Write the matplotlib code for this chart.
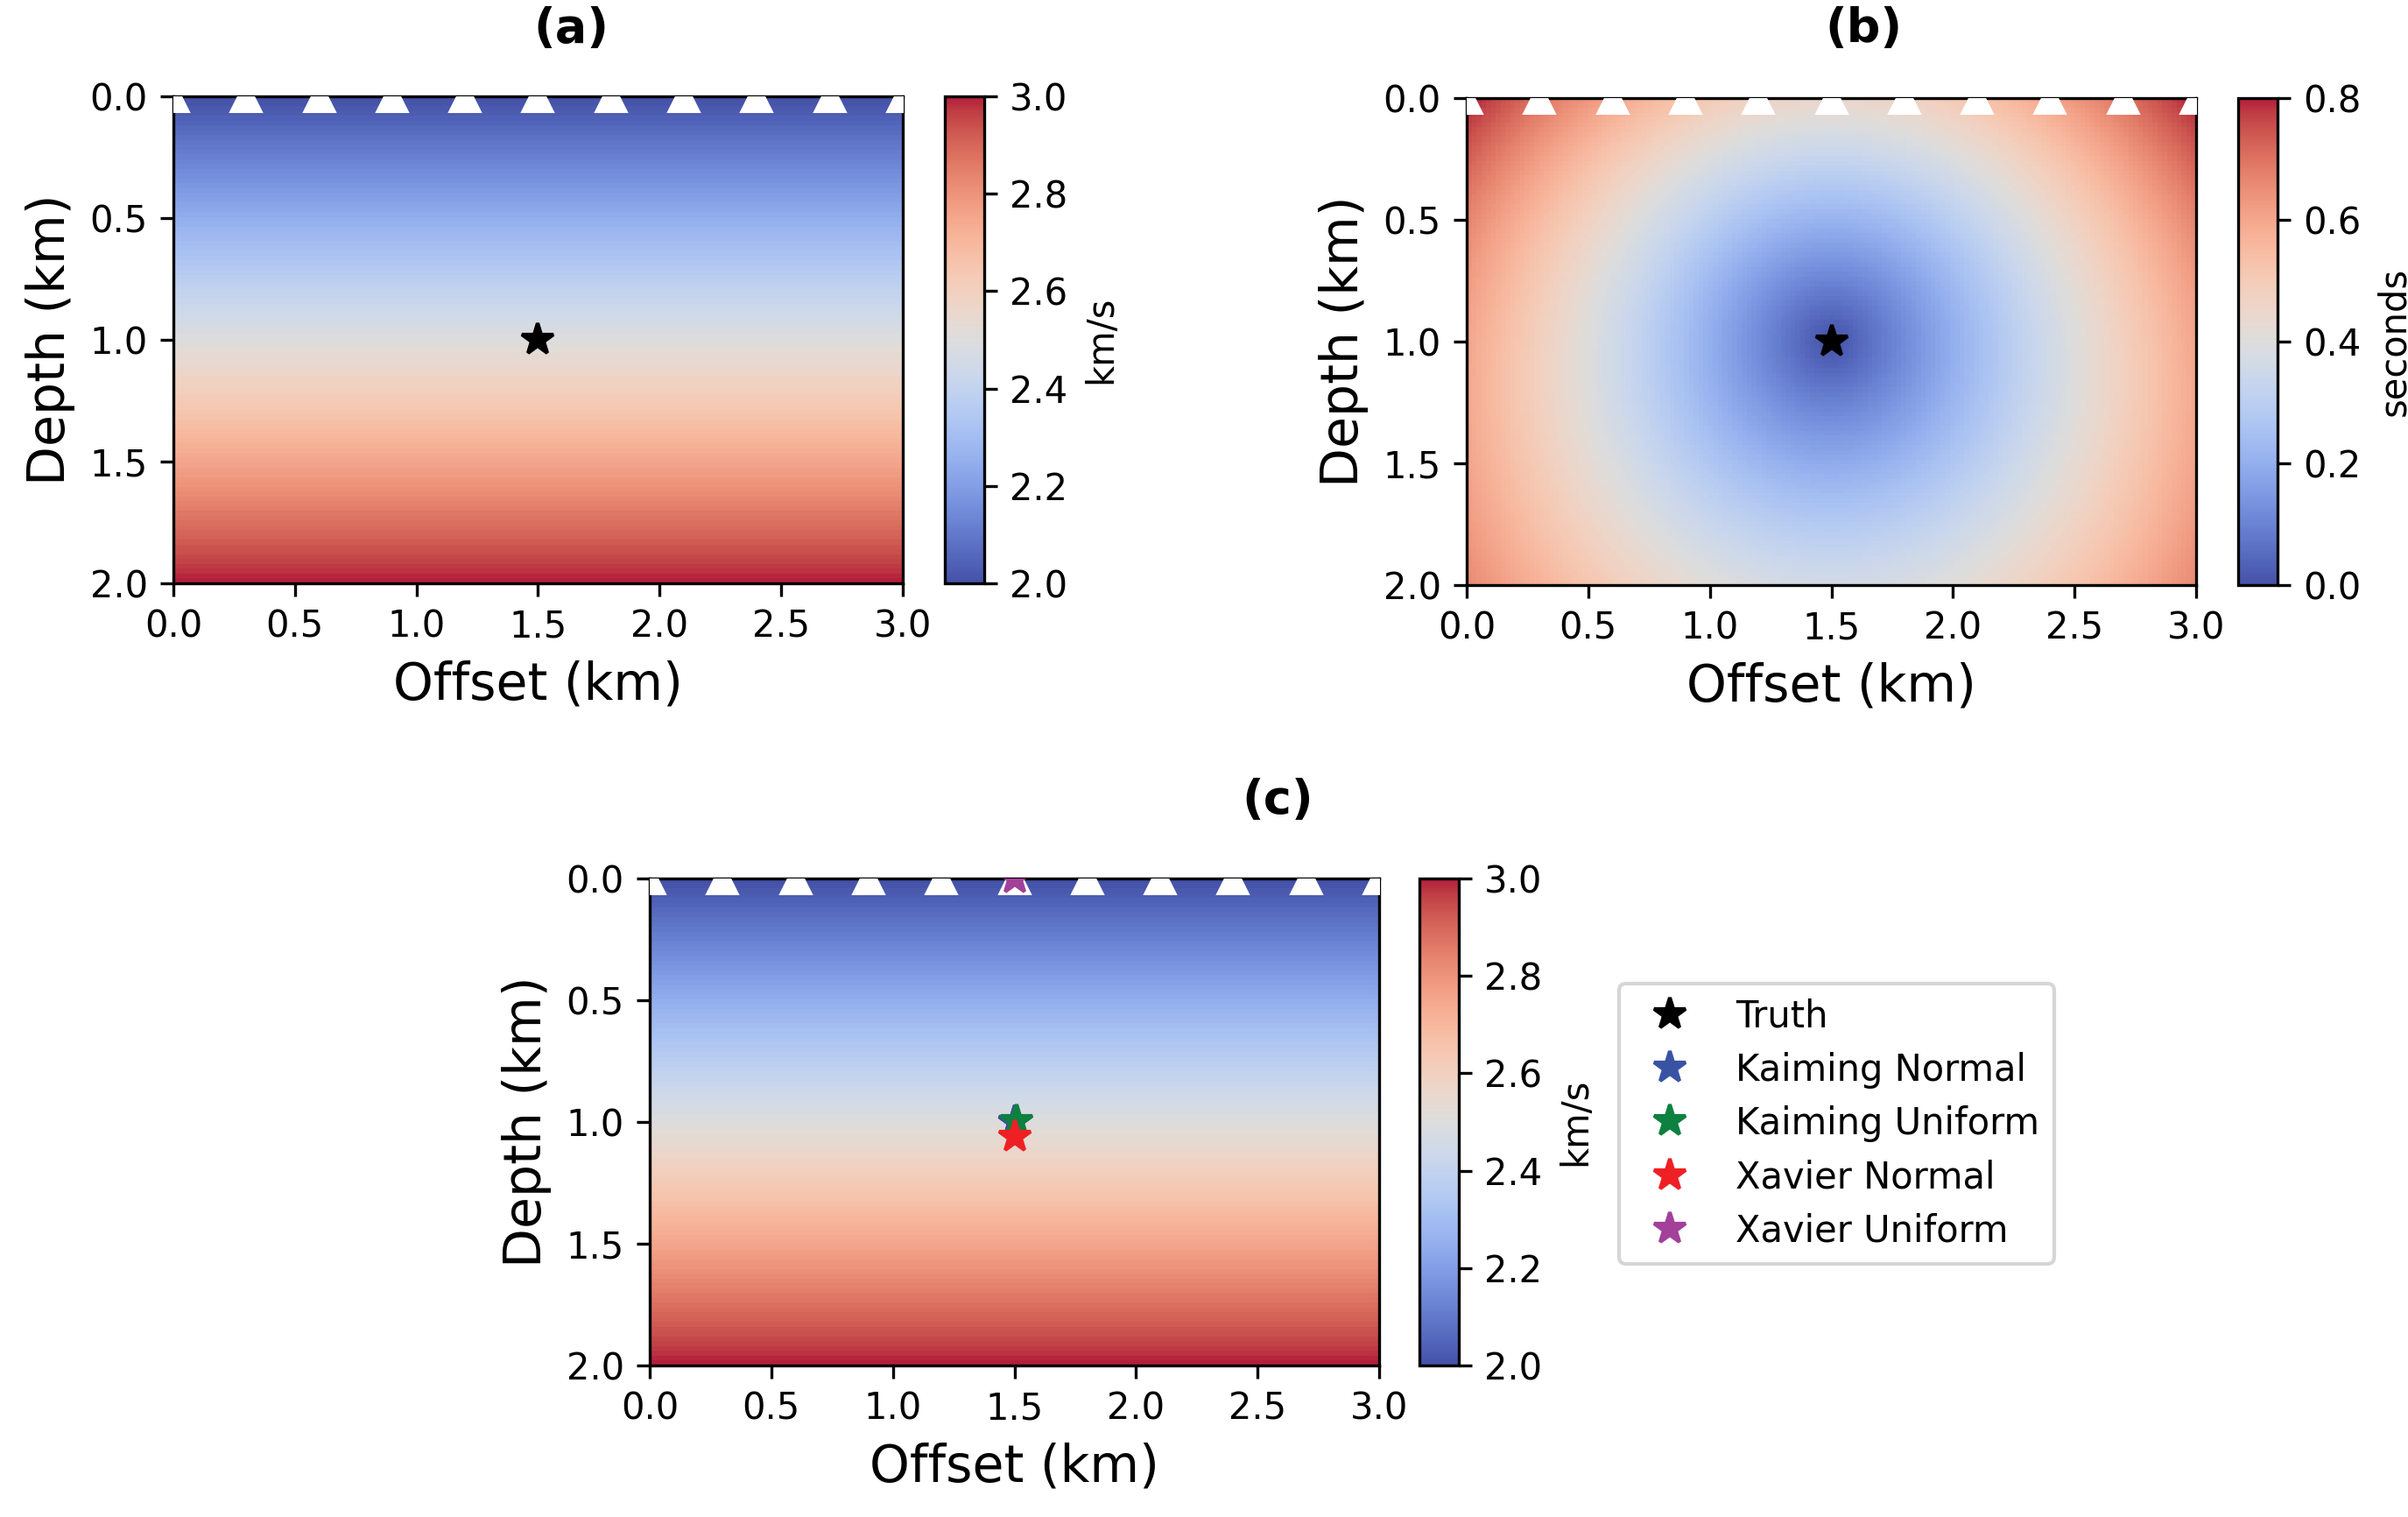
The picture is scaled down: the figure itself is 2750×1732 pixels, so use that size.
import numpy as np
import matplotlib
matplotlib.use("Agg")
import matplotlib.pyplot as plt
from matplotlib.lines import Line2D
from matplotlib.colors import ListedColormap, rgb_to_hsv, hsv_to_rgb

# ---------------- data ----------------
offset_range = [0.0, 3.0]          # km
depth_range = [0.0, 2.0]           # km
v_top = 2.0                        # km/s at surface
v_bottom = 3.0                     # km/s at 2 km depth
vel_ticks = [2.0, 2.2, 2.4, 2.6, 2.8, 3.0]
time_ticks = [0.0, 0.2, 0.4, 0.6, 0.8]
x_ticks = [0.0, 0.5, 1.0, 1.5, 2.0, 2.5, 3.0]
z_ticks = [0.0, 0.5, 1.0, 1.5, 2.0]
source_x, source_z = 1.5, 1.0
receiver_x = [0.0, 0.3, 0.6, 0.9, 1.2, 1.5, 1.8, 2.1, 2.4, 2.7, 3.0]
receiver_z = [0.0] * len(receiver_x)

est_labels = ["Kaiming Normal", "Kaiming Uniform", "Xavier Normal", "Xavier Uniform"]
est_x = [1.50, 1.51, 1.50, 1.50]
est_z = [1.00, 0.995, 1.06, 0.0]
est_colors = ["#3953a4", "#0e8040", "#ee2024", "#a2409a"]

# ---------------- muted coolwarm (as in the reference rendering) ----------------
base = plt.get_cmap("coolwarm")(np.linspace(0, 1, 256))[:, :3]
hsv = rgb_to_hsv(base)
s = np.linspace(0, 1, 256)
hsv[:, 1] *= 0.85
hsv[:, 2] *= 1.0 - 0.13 * np.clip(0.5 - s, 0, None) * 2
cmap = ListedColormap(hsv_to_rgb(hsv))

# ---------------- fields ----------------
nx, nz = 151, 101
xg = np.linspace(offset_range[0], offset_range[1], nx)
zg = np.linspace(depth_range[0], depth_range[1], nz)
X, Z = np.meshgrid(xg, zg)
grad = (v_bottom - v_top) / (depth_range[1] - depth_range[0])
V = v_top + grad * Z
v_src = v_top + grad * source_z
R2 = (X - source_x) ** 2 + (Z - source_z) ** 2
T = np.arccosh(1.0 + grad ** 2 * R2 / (2.0 * v_src * V)) / grad

# ---------------- figure ----------------
W, H = 2750, 1732
fig = plt.figure(figsize=(W / 300, H / 300), dpi=300)
plt.rcParams["font.family"] = ["DejaVu Sans"]

def fx(px):
    return px / W

def fy(py):
    return 1 - py / H

extent = [offset_range[0], offset_range[1], depth_range[1], depth_range[0]]

def panel(ax_rect, cb_rect, field, vmin, vmax, ticks, cblabel):
    ax = fig.add_axes(ax_rect)
    im = ax.imshow(field, cmap=cmap, vmin=vmin, vmax=vmax, extent=extent,
                   aspect="equal", interpolation="nearest")
    ax.plot(receiver_x, receiver_z, linestyle="none", marker="^", ms=8.5,
            mfc="white", mec="white", mew=0.5, zorder=3)
    ax.set_xticks(x_ticks)
    ax.set_yticks(z_ticks)
    ax.set_xlim(offset_range)
    ax.set_ylim(depth_range[1], depth_range[0])
    ax.tick_params(labelsize=10)
    ax.set_xlabel("Offset (km)", fontsize=14)
    ax.set_ylabel("Depth (km)", fontsize=14)
    cax = fig.add_axes(cb_rect)
    cb = fig.colorbar(im, cax=cax, ticks=ticks)
    cb.ax.tick_params(labelsize=10)
    cb.set_label(cblabel, fontsize=10)
    return ax

axw, axh = 833 / W, 556 / H
cbw = 45 / W

ax_a = panel([fx(198), fy(666), axw, axh], [fx(1079), fy(666), cbw, axh],
             V, 2.0, 3.0, vel_ticks, "km/s")
ax_a.plot([source_x], [source_z], linestyle="none", marker="*", ms=9,
          color="black", zorder=4)

ax_b = panel([fx(1675), fy(668), axw, axh], [fx(2556), fy(668), cbw, axh],
             T, 0.0, 0.8, time_ticks, "seconds")
ax_b.plot([source_x], [source_z], linestyle="none", marker="*", ms=9,
          color="black", zorder=4)

ax_c = panel([fx(742), fy(1559), axw, axh], [fx(1621), fy(1559), cbw, axh],
             V, 2.0, 3.0, vel_ticks, "km/s")
ax_c.plot([source_x], [source_z], linestyle="none", marker="*", ms=9,
          color="black", zorder=4)
for xs, zs, c in zip(est_x, est_z, est_colors):
    ax_c.plot([xs], [zs], linestyle="none", marker="*", ms=9, color=c, zorder=5)

handles = [Line2D([], [], linestyle="none", marker="*", ms=9, color="black")]
handles += [Line2D([], [], linestyle="none", marker="*", ms=9, color=c) for c in est_colors]
labels = ["Truth"] + est_labels
fig.legend(handles, labels, loc="upper left", bbox_to_anchor=(fx(1849), fy(1123)),
           borderaxespad=0.0, fontsize=10, frameon=True, labelspacing=0.46)

fig.text(fx(652), fy(33), "(a)", fontsize=13, fontweight="bold", ha="center", va="center")
fig.text(fx(2128), fy(33), "(b)", fontsize=13, fontweight="bold", ha="center", va="center")
fig.text(fx(1459), fy(914), "(c)", fontsize=13, fontweight="bold", ha="center", va="center")

fig.savefig("out.png", dpi=300)
